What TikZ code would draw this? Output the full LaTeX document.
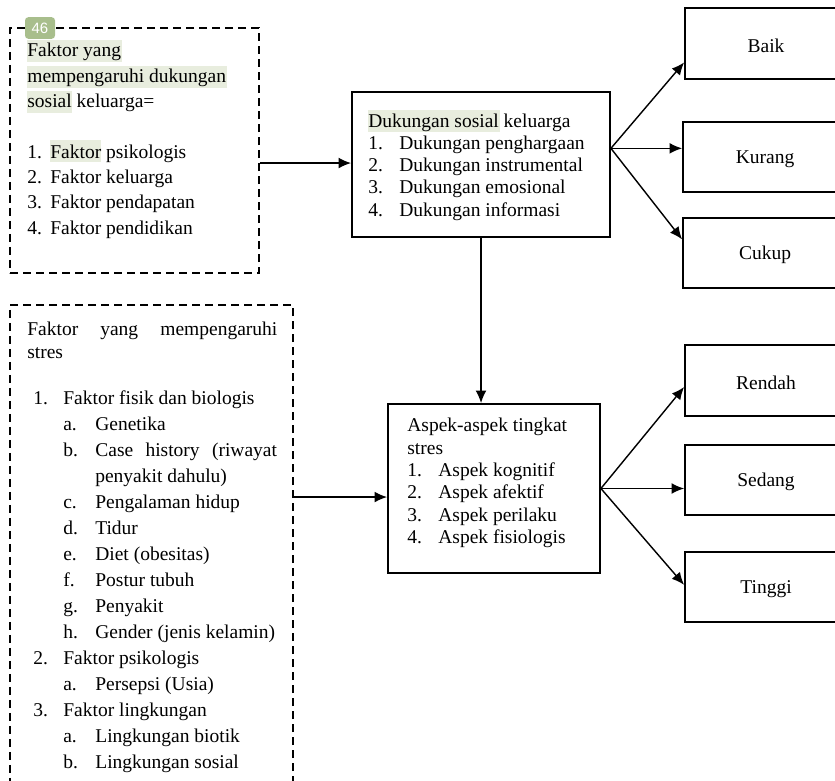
\documentclass[tikz,border=0pt]{standalone}
\usepackage{fontspec}
\setmainfont{Liberation Serif}
\newfontfamily\tagfont{Liberation Sans}
\usetikzlibrary{arrows.meta,calc,fit}
\definecolor{hiliteclr}{HTML}{E8EDDE}
\definecolor{tagclr}{HTML}{A8BE8C}
\tikzset{
	dashbox/.style={draw, line width=1.1pt, dash pattern=on 4.8pt off 3pt, inner sep=0pt},
	solidbox/.style={draw, line width=1.1pt, inner sep=0pt},
	txt/.style={anchor=west, inner sep=0pt, text height=8pt, text depth=2.5pt, yshift=-1.2pt, font=\fontsize{11.7}{14}\selectfont},
	lbl/.style={inner sep=0pt, yshift=-1.2pt, font=\fontsize{11.7}{14}\selectfont},
	arr/.style={line width=0.85pt, -{Latex[length=7.5pt,width=6.5pt]}},
	hilite/.style={fill=hiliteclr},
	tagbox/.style={fill=tagclr, rounded corners=2pt, text=white, inner sep=0pt, minimum width=18pt, minimum height=13pt, font=\tagfont\fontsize{9}{10}\selectfont},
}

\begin{document}
\begin{tikzpicture}[x=0.6pt,y=-0.6pt]
			%%%%% START %%%%%
			\useasboundingbox (0,0) rectangle (835,781);
			\clip (0,0) rectangle (835,781);
			
			% highlights
			\fill[hilite] (27,40) rectangle (122,62);
			\fill[hilite] (27,66) rectangle (227,88);
			\fill[hilite] (27,91) rectangle (72,113);
			\fill[hilite] (50,140) rectangle (101,162);
			\fill[hilite] (368,110) rectangle (500,132);
			
			% faktor dukungan sosial
			\node[dashbox, fit={(10,28) (259,273)}] (faktorA) {};
			\node[tagbox] (tag46) at (40,28) {46};
			\node[txt] (fa0) at (27,50) {Faktor yang};
			\node[txt] (fa1) at (27,76) {mempengaruhi dukungan};
			\node[txt] (fa2) at (27,101) {sosial keluarga=};
			\node[txt] (fa3) at (27,152) {1.};
			\node[txt] (fa3t) at (50,152) {Faktor psikologis};
			\node[txt] (fa4) at (27,177) {2.};
			\node[txt] (fa4t) at (50,177) {Faktor keluarga};
			\node[txt] (fa5) at (27,202) {3.};
			\node[txt] (fa5t) at (50,202) {Faktor pendapatan};
			\node[txt] (fa6) at (27,228) {4.};
			\node[txt] (fa6t) at (50,228) {Faktor pendidikan};
			
			% dukungan sosial keluarga
			\node[solidbox, fit={(352,92) (610,237)}] (dukungan) {};
			\node[txt] (du0) at (368,121) {Dukungan sosial keluarga};
			\node[txt] (du1) at (368,143) {1.};
			\node[txt] (du1t) at (399,143) {Dukungan penghargaan};
			\node[txt] (du2) at (368,165) {2.};
			\node[txt] (du2t) at (399,165) {Dukungan instrumental};
			\node[txt] (du3) at (368,187) {3.};
			\node[txt] (du3t) at (399,187) {Dukungan emosional};
			\node[txt] (du4) at (368,210) {4.};
			\node[txt] (du4t) at (399,210) {Dukungan informasi};
			
			% kategori dukungan
			\node[solidbox, fit={(685,8) (847,79)}] (baik) {};
			\node[lbl] (baikT) at (baik.center) {Baik};
			\node[solidbox, fit={(683,122) (847,192)}] (kurang) {};
			\node[lbl] (kurangT) at (kurang.center) {Kurang};
			\node[solidbox, fit={(683,218) (847,288)}] (cukup) {};
			\node[lbl] (cukupT) at (cukup.center) {Cukup};
			
			% faktor stres
			\node[dashbox, fit={(10,305) (293,800)}] (faktorB) {};
			\node[txt] (fb0) at (27,329) {\makebox[150pt][s]{Faktor yang mempengaruhi}};
			\node[txt] (fb1) at (27,352) {stres};
			\node[txt] (fb2) at (33,398) {1.};
			\node[txt] (fb2t) at (63,398) {Faktor fisik dan biologis};
			\node[txt] (fb3) at (63,424) {a.};
			\node[txt] (fb3t) at (95,424) {Genetika};
			\node[txt] (fb4) at (63,450) {b.};
			\node[txt] (fb4t) at (95,450) {\makebox[109pt][s]{Case history (riwayat}};
			\node[txt] (fb5t) at (95,476) {penyakit dahulu)};
			\node[txt] (fb6) at (63,502) {c.};
			\node[txt] (fb6t) at (95,502) {Pengalaman hidup};
			\node[txt] (fb7) at (63,528) {d.};
			\node[txt] (fb7t) at (95,528) {Tidur};
			\node[txt] (fb8) at (63,554) {e.};
			\node[txt] (fb8t) at (95,554) {Diet (obesitas)};
			\node[txt] (fb9) at (63,580) {f.};
			\node[txt] (fb9t) at (95,580) {Postur tubuh};
			\node[txt] (fb10) at (63,606) {g.};
			\node[txt] (fb10t) at (95,606) {Penyakit};
			\node[txt] (fb11) at (63,632) {h.};
			\node[txt] (fb11t) at (95,632) {Gender (jenis kelamin)};
			\node[txt] (fb12) at (33,658) {2.};
			\node[txt] (fb12t) at (63,658) {Faktor psikologis};
			\node[txt] (fb13) at (63,684) {a.};
			\node[txt] (fb13t) at (95,684) {Persepsi (Usia)};
			\node[txt] (fb14) at (33,710) {3.};
			\node[txt] (fb14t) at (63,710) {Faktor lingkungan};
			\node[txt] (fb15) at (63,736) {a.};
			\node[txt] (fb15t) at (95,736) {Lingkungan biotik};
			\node[txt] (fb16) at (63,762) {b.};
			\node[txt] (fb16t) at (95,762) {Lingkungan sosial};
			
			% aspek tingkat stres
			\node[solidbox, fit={(388,404) (600,573)}] (aspek) {};
			\node[txt] (as0) at (407,425) {Aspek-aspek tingkat};
			\node[txt] (as1) at (407,448) {stres};
			\node[txt] (as2) at (407,470) {1.};
			\node[txt] (as2t) at (438,470) {Aspek kognitif};
			\node[txt] (as3) at (407,492) {2.};
			\node[txt] (as3t) at (438,492) {Aspek afektif};
			\node[txt] (as4) at (407,515) {3.};
			\node[txt] (as4t) at (438,515) {Aspek perilaku};
			\node[txt] (as5) at (407,537) {4.};
			\node[txt] (as5t) at (438,537) {Aspek fisiologis};
			
			% kategori stres
			\node[solidbox, fit={(685,345) (847,416)}] (rendah) {};
			\node[lbl] (rendahT) at (rendah.center) {Rendah};
			\node[solidbox, fit={(685,445) (847,515)}] (sedang) {};
			\node[lbl] (sedangT) at (sedang.center) {Sedang};
			\node[solidbox, fit={(685,552) (847,622)}] (tinggi) {};
			\node[lbl] (tinggiT) at (tinggi.center) {Tinggi};
			
			% arrows
			\coordinate (inA) at ($(dukungan.north west)!0.49!(dukungan.south west)$);
			\draw[arr] (faktorA.east |- inA) -- (inA);
			\coordinate (outA) at ($(dukungan.north east)!0.39!(dukungan.south east)$);
			\draw[arr] (outA) -- ($(baik.south west)!0.24!(baik.north west)$);
			\draw[arr] (outA) -- (kurang.west |- outA);
			\draw[arr] (outA) -- ($(cukup.north west)!0.31!(cukup.south west)$);
			
			\draw[arr] (dukungan.south) -- (dukungan.south |- aspek.north);
			
			\coordinate (inB) at ($(aspek.north west)!0.55!(aspek.south west)$);
			\draw[arr] (faktorB.east |- inB) -- (inB);
			\coordinate (outB) at (aspek.east);
			\draw[arr] (outB) -- ($(rendah.south west)!0.41!(rendah.north west)$);
			\draw[arr] (outB) -- (sedang.west |- outB);
			\draw[arr] (outB) -- ($(tinggi.north west)!0.47!(tinggi.south west)$);
			
			%%%%% END %%%%%
		\end{tikzpicture}
\end{document}
